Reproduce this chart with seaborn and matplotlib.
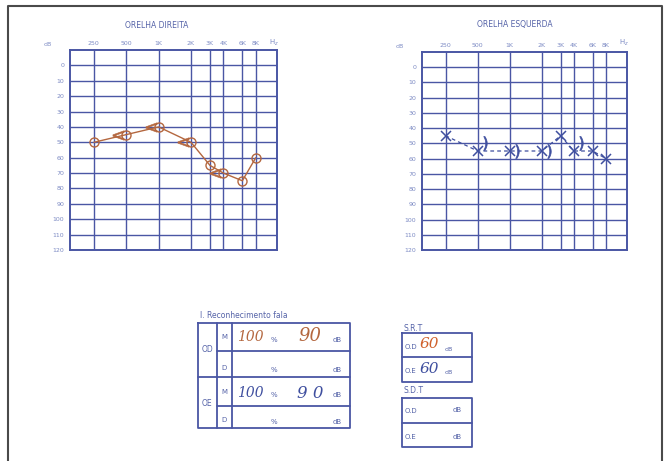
import numpy as np
import pandas as pd
import matplotlib
matplotlib.use("Agg")
import matplotlib.pyplot as plt
import seaborn as sns
from matplotlib.transforms import offset_copy

# --- Data ---
FREQS = [250, 500, 1000, 2000, 3000, 4000, 6000, 8000]
FREQ_LABELS = ["250", "500", "1K", "2K", "3K", "4K", "6K", "8K"]
DB_TICKS = [0, 10, 20, 30, 40, 50, 60, 70, 80, 90, 100, 110, 120]

OD_AIR = [50, 45, 40, 50, 65, 70, 75, 60]          # right ear, circles
OD_BONE_FREQS = [500, 1000, 2000, 4000]
OD_BONE = [45, 40, 50, 70]                          # right ear, "<"

OE_AIR = [45, 55, 55, 55, 45, 55, 55, 60]           # left ear, crosses
OE_BONE_FREQS = [500, 1000, 2000, 4000]
OE_BONE = [50, 55, 55, 50]                          # left ear, ")"

SPEECH_PCT = ["100", "100"]   # OD M, OE M
SPEECH_DB = ["90", "9 0"]
SRT_DB = ["60", "60"]          # O.D, O.E

# --- Colours ---
GRID = '#4a56a4'
LABEL = '#7d8bc4'
PRINT = '#5563a8'
BROWN = '#b4673f'
BLUE = '#3f4f9f'
ORANGE = '#d0612c'

W, H = 669, 461
sns.set_style("white")
plt.rcParams['font.family'] = ['DejaVu Sans']

fig = plt.figure(figsize=(W / 100, H / 100), dpi=100)

# page overlay in pixel coordinates (frame, titles, tables)
page = fig.add_axes([0, 0, 1, 1])
page.set_xlim(0, W)
page.set_ylim(H, 0)
page.axis('off')


def px_axes(x0, y0, x1, y1):
    return fig.add_axes([x0 / W, 1 - y1 / H, (x1 - x0) / W, (y1 - y0) / H])


def audiogram(ax, title_x, title):
    ax.set_xscale('log', base=2)
    ax.set_xlim(150, 12600)
    ax.set_ylim(120, -10)
    ax.set_xticks(FREQS)
    ax.set_xticklabels(FREQ_LABELS)
    ax.minorticks_off()
    ax.set_yticks(DB_TICKS)
    ax.set_yticklabels([str(v) for v in DB_TICKS])
    ax.xaxis.tick_top()
    ax.tick_params(length=0, labelsize=4.5, labelcolor=LABEL)
    ax.tick_params(axis='x', pad=3)
    ax.tick_params(axis='y', pad=4)
    ax.grid(True, color=GRID, lw=1.0)
    ax.set_axisbelow(True)
    for s in ax.spines.values():
        s.set_color(GRID)
        s.set_linewidth(1.4)
    ax.set_xlabel('')
    ax.set_ylabel('')
    if title:
        page.text(title_x, 25, title, ha='center', va='center', fontsize=5.5, color=PRINT)


# --- Right ear ---
ax_r = px_axes(70, 50, 277, 250)
df_od = pd.DataFrame({'freq': FREQS, 'db': OD_AIR})
sns.lineplot(data=df_od, x='freq', y='db', ax=ax_r, color=BROWN, lw=1.0,
             marker='o', markersize=6.5, markerfacecolor='none',
             markeredgecolor=BROWN, markeredgewidth=1.0)
ax_r.plot(OD_BONE_FREQS, OD_BONE, ls='none', marker=r'$<$', markersize=8,
          markeredgewidth=0.4, color=BROWN,
          transform=offset_copy(ax_r.transData, fig=fig, x=-8, y=0, units='dots'))
audiogram(ax_r, 157, "ORELHA DIREITA")

# --- Left ear ---
ax_l = px_axes(422, 52, 627, 250)
df_oe = pd.DataFrame({'freq': FREQS, 'db': OE_AIR})
sns.lineplot(data=df_oe, x='freq', y='db', ax=ax_l, color=BLUE, lw=0.9,
             linestyle=(0, (3, 2.5)), marker='x', markersize=6.5,
             markeredgecolor=BLUE, markeredgewidth=1.1)
ax_l.plot(OE_BONE_FREQS, OE_BONE, ls='none', marker=r'$)$', markersize=10,
          markeredgewidth=0.5, color=BLUE,
          transform=offset_copy(ax_l.transData, fig=fig, x=7, y=0, units='dots'))
audiogram(ax_l, 515, "ORELHA ESQUERDA")

# axis unit labels
for x, y in [(48, 44), (400, 46)]:
    page.text(x, y, "dB", fontsize=4.5, color=LABEL, ha='center', va='center')
for x in (274, 624):
    page.text(x, 43, "H$_z$", fontsize=5, color=LABEL, ha='center', va='center')

# --- outer frame ---
page.plot([8, 8, 662, 662], [470, 6, 6, 470], color='#4a4a4a', lw=1.5, clip_on=False)

# --- speech recognition table ---
lc = dict(color=GRID, lw=1.3)
page.text(200, 315, "I. Reconhecimento fala", fontsize=5.5, color=PRINT, va='center')
page.plot([198, 350, 350, 198, 198], [323, 323, 428, 428, 323], **lc)
page.plot([217, 217], [323, 428], **lc)
page.plot([232, 232], [323, 428], **lc)
page.plot([198, 350], [377, 377], **lc)
page.plot([217, 350], [351, 351], **lc)
page.plot([217, 350], [406, 406], **lc)

page.text(207, 349, "OD", fontsize=5.5, color=PRINT, ha='center', va='center')
page.text(207, 403, "OE", fontsize=5.5, color=PRINT, ha='center', va='center')
for y, lab in [(337, "M"), (368, "D"), (392, "M"), (420, "D")]:
    page.text(224, y, lab, fontsize=5, color=PRINT, ha='center', va='center')
for y in (340, 370, 395, 422):
    page.text(274, y, "%", fontsize=5, color=PRINT, ha='center', va='center')
    page.text(337, y, "dB", fontsize=5, color=PRINT, ha='center', va='center')

hand = dict(family='DejaVu Serif', style='italic', va='center')
page.text(250, 337, SPEECH_PCT[0], fontsize=10, color=BROWN, ha='center', **hand)
page.text(310, 336, SPEECH_DB[0], fontsize=13, color=BROWN, ha='center', **hand)
page.text(250, 393, SPEECH_PCT[1], fontsize=10, color=BLUE, ha='center', **hand)
page.text(310, 393, SPEECH_DB[1], fontsize=12, color=BLUE, ha='center', **hand)

# --- S.R.T / S.D.T boxes ---
page.text(403, 328, "S.R.T", fontsize=5.5, color=PRINT, va='center')
page.plot([402, 472, 472, 402, 402], [333, 333, 382, 382, 333], **lc)
page.plot([402, 472], [357, 357], **lc)
page.text(405, 347, "O.D", fontsize=5, color=PRINT, va='center')
page.text(429, 344, SRT_DB[0], fontsize=11, color=ORANGE, ha='center', **hand)
page.text(445, 349, "dB", fontsize=4.5, color=PRINT, va='center')
page.text(405, 371, "O.E", fontsize=5, color=PRINT, va='center')
page.text(429, 369, SRT_DB[1], fontsize=11, color=BLUE, ha='center', **hand)
page.text(445, 372, "dB", fontsize=4.5, color=PRINT, va='center')

page.text(403, 390, "S.D.T", fontsize=5.5, color=PRINT, va='center')
page.plot([402, 472, 472, 402, 402], [398, 398, 447, 447, 398], **lc)
page.plot([402, 472], [423, 423], **lc)
page.text(405, 411, "O.D", fontsize=5, color=PRINT, va='center')
page.text(457, 410, "dB", fontsize=5, color=PRINT, ha='center', va='center')
page.text(405, 437, "O.E", fontsize=5, color=PRINT, va='center')
page.text(457, 437, "dB", fontsize=5, color=PRINT, ha='center', va='center')

fig.savefig("out.png", dpi=100)
